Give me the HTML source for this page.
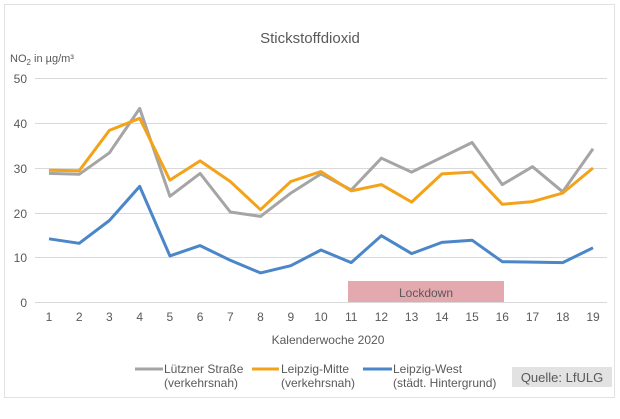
<!DOCTYPE html>
<html><head><meta charset="utf-8"><style>
body{margin:0;background:#fff;}
svg text{font-family:"Liberation Sans",sans-serif;fill:#595959;}
</style></head><body>
<svg width="620" height="414" viewBox="0 0 620 414" xmlns="http://www.w3.org/2000/svg">
<rect x="4.5" y="4.5" width="610" height="393" fill="#fff" stroke="#e2e2e2"/>
<text x="310" y="43" font-size="15" text-anchor="middle" fill="#404040">Stickstoffdioxid</text>
<text x="10" y="62" font-size="11">NO<tspan font-size="8" dy="3">2</tspan><tspan dy="-3"> in µg/m³</tspan></text>
<g stroke="#d9d9d9" stroke-width="1">
<line x1="35" x2="607" y1="78.5" y2="78.5"/><line x1="35" x2="607" y1="123.5" y2="123.5"/>
<line x1="35" x2="607" y1="168.5" y2="168.5"/><line x1="35" x2="607" y1="213.5" y2="213.5"/>
<line x1="35" x2="607" y1="257.5" y2="257.5"/><line x1="35" x2="607" y1="302.5" y2="302.5"/>
</g>
<g font-size="12" text-anchor="end">
<text x="27" y="83">50</text><text x="27" y="128">40</text><text x="27" y="173">30</text>
<text x="27" y="218">20</text><text x="27" y="262">10</text><text x="27" y="307">0</text>
</g>
<rect x="348" y="281" width="156" height="21" fill="#e3a9af"/>
<text x="426" y="297" font-size="12" text-anchor="middle" fill="#5a4a4a">Lockdown</text>
<g font-size="12" text-anchor="middle">
<text x="49" y="321">1</text><text x="79.2" y="321">2</text><text x="109.4" y="321">3</text><text x="139.7" y="321">4</text><text x="169.9" y="321">5</text><text x="200.1" y="321">6</text><text x="230.3" y="321">7</text><text x="260.5" y="321">8</text><text x="290.8" y="321">9</text><text x="321" y="321">10</text><text x="351.2" y="321">11</text><text x="381.4" y="321">12</text><text x="411.6" y="321">13</text><text x="441.9" y="321">14</text><text x="472.1" y="321">15</text><text x="502.3" y="321">16</text><text x="532.5" y="321">17</text><text x="562.7" y="321">18</text><text x="593" y="321">19</text>
</g>
<text x="328" y="344" font-size="12" text-anchor="middle">Kalenderwoche 2020</text>
<g fill="none" stroke-width="3" stroke-linejoin="round">
<polyline stroke="#a5a5a5" points="49,173.4 79.2,174.3 109.4,152.8 139.7,108.5 169.9,196.3 200.1,173.4 230.3,212 260.5,216.4 290.8,193.1 321,173.9 351.2,190 381.4,158.2 411.6,172.1 441.9,157.3 472.1,142.5 502.3,184.6 532.5,166.7 562.7,191.8 593,148.8"/>
<polyline stroke="#f3a31a" points="49,170.3 79.2,170.7 109.4,130.4 139.7,118.3 169.9,180.1 200.1,160.9 230.3,181.5 260.5,209.7 290.8,181.5 321,171.6 351.2,190.9 381.4,184.6 411.6,202.1 441.9,173.9 472.1,172.1 502.3,204.3 532.5,201.6 562.7,193.1 593,168.0"/>
<polyline stroke="#4a86c8" points="49,238.8 79.2,243.3 109.4,220.5 139.7,186.4 169.9,255.9 200.1,245.6 230.3,260.3 260.5,272.9 290.8,265.7 321,250 351.2,262.6 381.4,235.7 411.6,253.6 441.9,242.4 472.1,240.2 502.3,261.7 532.5,262.1 562.7,262.6 593,247.8"/>
</g>
<g stroke-width="3">
<line x1="135" x2="163" y1="369" y2="369" stroke="#a5a5a5"/>
<line x1="252" x2="279" y1="369" y2="369" stroke="#f3a31a"/>
<line x1="363" x2="392" y1="369" y2="369" stroke="#4a86c8"/>
</g>
<g font-size="12">
<text x="164" y="373">Lützner Straße</text><text x="164" y="387">(verkehrsnah)</text>
<text x="281" y="373">Leipzig-Mitte</text><text x="281" y="387">(verkehrsnah)</text>
<text x="393" y="373">Leipzig-West</text><text x="393" y="387">(städt. Hintergrund)</text>
</g>
<rect x="512" y="367" width="100" height="20" fill="#e2e2e2"/>
<text x="562" y="382" font-size="13" text-anchor="middle" fill="#404040">Quelle:  LfULG</text>
</svg>
</body></html>
